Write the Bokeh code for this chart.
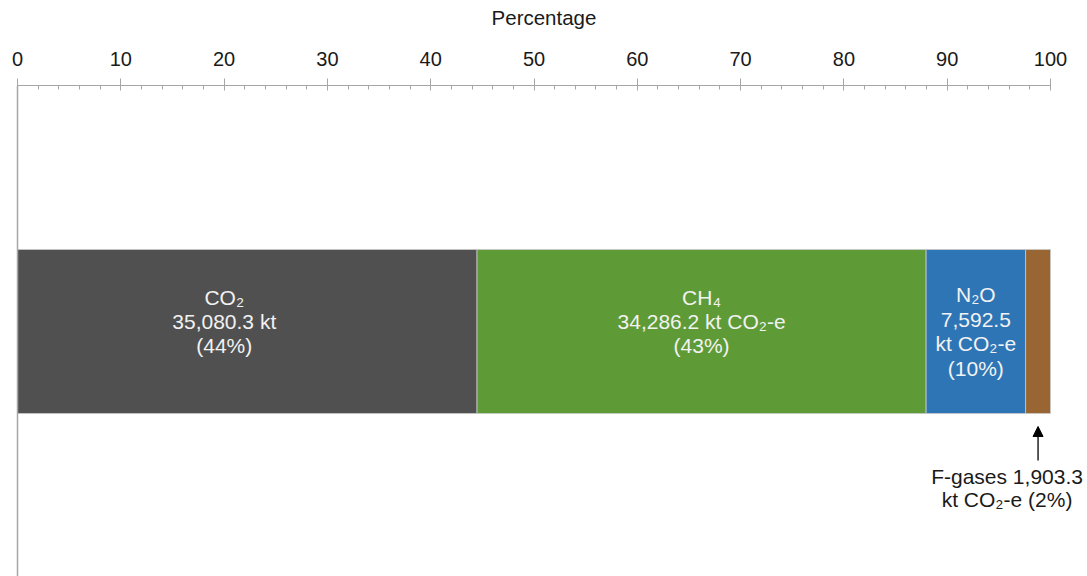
from bokeh.plotting import figure
from bokeh.models import (Range1d, LinearAxis, FixedTicker, Span, Arrow,
                          NormalHead, ColumnDataSource)
from bokeh.core.properties import value
from bokeh.embed import file_html
from bokeh.resources import INLINE

# ---- data ----
gases = ["CO₂", "CH₄", "N₂O", "F-gases"]
emissions_kt = [35080.3, 34286.2, 7592.5, 1903.3]
units = ["kt", "kt CO₂-e", "kt CO₂-e", "kt CO₂-e"]
x_ticks = [0, 10, 20, 30, 40, 50, 60, 70, 80, 90, 100]
x_minor_ticks = list(range(0, 101, 2))

# ---- styles ----
colors = ["#505050", "#5e9b37", "#2e75b6", "#996633"]
FONT = "Liberation Sans"

total = sum(emissions_kt)
pct = [v / total * 100 for v in emissions_kt]
left, right = [], []
acc = 0.0
for p_ in pct:
    left.append(acc)
    acc += p_
    right.append(acc)
mid = [(a + b) / 2 for a, b in zip(left, right)]

lbl = []
for i, (g, v, u, p_) in enumerate(zip(gases, emissions_kt, units, pct)):
    if i < 2:
        lbl.append(f"{g}\n{v:,.1f} {u}\n({p_:.0f}%)")
    elif i == 2:
        lbl.append(f"{g}\n{v:,.1f}\n{u}\n({p_:.0f}%)")
    else:
        lbl.append(f"{g} {v:,.1f}\n{u} ({p_:.0f}%)")

src = ColumnDataSource(dict(left=left, right=right, color=colors, mid=mid))

p = figure(width=1087, height=576, output_backend="svg", toolbar_location=None,
           x_range=Range1d(-1.646, 103.58), y_range=Range1d(-1.494, 1.5),
           x_axis_location=None, y_axis_location=None,
           min_border_left=0, min_border_right=0, min_border_top=85,
           min_border_bottom=0)
p.outline_line_color = None
p.xgrid.visible = False
p.ygrid.visible = False
p.background_fill_color = "white"

axis = LinearAxis(ticker=FixedTicker(ticks=x_ticks, minor_ticks=x_minor_ticks),
                  bounds=(0, 100), axis_label="Percentage")
axis.axis_line_color = "#a6a6a6"
axis.major_tick_line_color = "#a6a6a6"
axis.minor_tick_line_color = "#a6a6a6"
axis.major_tick_out = 7
axis.major_tick_in = 5
axis.minor_tick_out = 0
axis.minor_tick_in = 4
axis.major_label_text_font = FONT
axis.major_label_text_font_size = "20px"
axis.major_label_text_color = "#1a1a1a"
axis.major_label_standoff = 13
axis.axis_label_text_font = FONT
axis.axis_label_text_font_size = "20.5px"
axis.axis_label_text_font_style = "normal"
axis.axis_label_text_color = "#1a1a1a"
axis.axis_label_standoff = 20
p.add_layout(axis, "above")

p.add_layout(Span(location=0, dimension="height", line_color="#a6a6a6", line_width=1.5))

p.hbar(y=0, left="left", right="right", height=1, fill_color="color",
       line_color="#c8c8c8", line_width=1, line_alpha=0.8, source=src)

# in-bar labels (first three segments)
in_src = ColumnDataSource(dict(x=mid[:3], text=lbl[:3],
                               xo=[-23, 0, 0], yo=[-10, -10, 0]))
p.text(x="x", y=0, text="text", source=in_src, x_offset="xo", y_offset="yo",
       text_align="center", text_baseline="middle", text_color="#f2f2f2",
       text_font=value(FONT), text_font_size="21px", text_line_height=1.06)

# F-gases callout
bar_bottom = -0.5
xf = mid[3]
p.add_layout(Arrow(end=NormalHead(size=10, fill_color="black", line_color="black"),
                   x_start=xf, y_start=bar_bottom - 47 / 164,
                   x_end=xf, y_end=bar_bottom - 13 / 164,
                   line_color="black", line_width=1.3))
out_src = ColumnDataSource(dict(x=[xf], text=[lbl[3]]))
p.text(x="x", y=bar_bottom - 74.5 / 164, text="text", source=out_src, x_offset=-31,
       text_align="center", text_baseline="middle", text_color="#1a1a1a",
       text_font=value(FONT), text_font_size="21px", text_line_height=1.0)

open("out.html", "w").write(file_html(p, INLINE))
